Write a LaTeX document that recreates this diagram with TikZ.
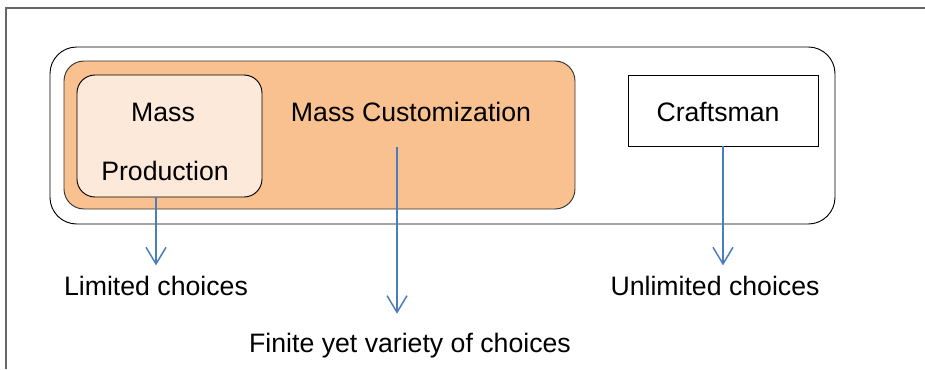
\documentclass[tikz,border=0pt]{standalone}
\usepackage{fontspec}
\setmainfont{Liberation Sans}
\usetikzlibrary{arrows.meta}
\definecolor{custfill}{HTML}{F9C18F}
\definecolor{prodfill}{HTML}{FDE9D9}
\definecolor{arrowblue}{HTML}{4A7EBB}
\tikzset{
  framebox/.style={draw=black, line width=0.7pt, rectangle, inner sep=0pt},
  label/.style={font=\fontsize{20}{24}\selectfont, inner sep=0pt, anchor=base},
  choice/.style={-{Straight Barb[length=12.5pt,width=15pt,line width=1.1pt]}, draw=arrowblue, line width=1.1pt}
}
\begin{document}
\begin{tikzpicture}[x=0.75pt,y=-0.75pt]
  \useasboundingbox (0,0) rectangle (925,369);
  % page frame
  \draw[gray!80!black, line width=0.8pt] (6,369) -- (6,8) -- (925,8);
  % boxes
  \node[framebox, rounded corners=20pt, minimum width=785*0.75pt, minimum height=177*0.75pt] (all) at (442.5,135.5) {};
  \node[framebox, fill=custfill, draw=black!80, rounded corners=15pt, minimum width=511*0.75pt, minimum height=148*0.75pt] (mc) at (319.5,135) {};
  \node[framebox, fill=prodfill, rounded corners=13.5pt, minimum width=185*0.75pt, minimum height=122*0.75pt] (mp) at (169.5,136) {};
  \node[framebox, minimum width=190*0.75pt, minimum height=71*0.75pt] (cr) at (723,110.5) {};
  % texts
  \node[label] (mass) at (163,121.5) {Mass};
  \node[label] (prod) at (165,180) {Production};
  \node[label] (mctext) at (411,121.5) {Mass Customization};
  \node[label] (crtext) at (718,121.5) {Craftsman};
  \node[label] (lim) at (156,295) {Limited choices};
  \node[label] (fin) at (410,352) {Finite yet variety of choices};
  \node[label] (unl) at (715,295) {Unlimited choices};
  \coordinate (mcfrom) at (397,147);
  % arrows
  \draw[choice] (lim.north |- mp.south) -- ([yshift=7.5pt]lim.north);
  \draw[choice] (mcfrom) -- ([yshift=14pt]fin.north -| mcfrom);
  \draw[choice] (cr.south) -- ([yshift=7.5pt]unl.north -| cr.south);
\end{tikzpicture}
\end{document}
